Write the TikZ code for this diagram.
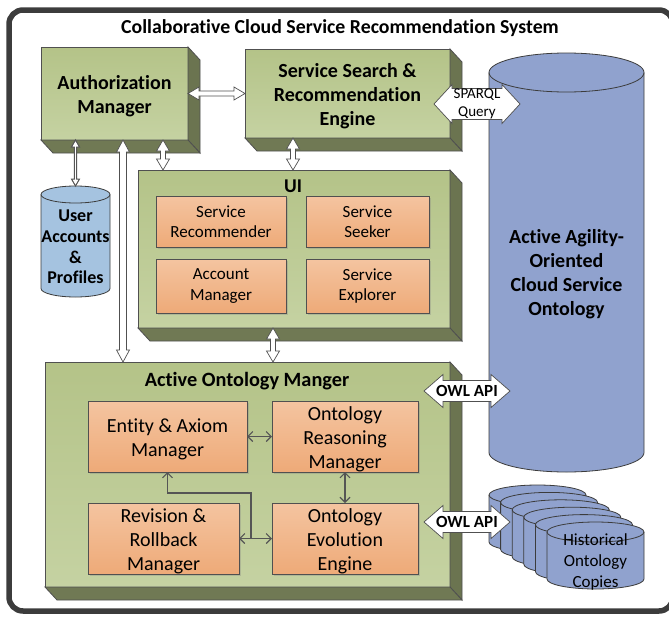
\documentclass[tikz,border=0pt]{standalone}
\usepackage{fontspec}
\setmainfont{Carlito}[Ligatures=NoCommon]
\usetikzlibrary{calc,arrows.meta,shadows}
\definecolor{framecol}{RGB}{60,60,60}
\definecolor{greentop}{RGB}{180,195,136}
\definecolor{greenbot}{RGB}{197,210,162}
\definecolor{greenside}{RGB}{107,116,80}
\definecolor{greenbottom}{RGB}{112,121,84}
\definecolor{orangetop}{RGB}{244,196,160}
\definecolor{orangebot}{RGB}{238,170,120}
\definecolor{ontoblue}{RGB}{144,162,206}
\definecolor{userblue}{RGB}{165,195,224}
\definecolor{edgecol}{RGB}{80,80,80}
\definecolor{arrowcol}{RGB}{85,85,85}
\newcommand\fsTitle{\fontsize{19.8}{23}\selectfont\bfseries}
\newcommand\fsBoxB{\fontsize{20}{24}\selectfont\bfseries}
\newcommand\fsSub{\fontsize{17}{20.5}\selectfont}
\newcommand\fsInner{\fontsize{20}{24}\selectfont}
\newcommand\fsUser{\fontsize{18}{20.7}\selectfont\bfseries}
\newcommand\fsSmall{\fontsize{15}{17.5}\selectfont}
\newcommand\fsOwl{\fontsize{17}{20}\selectfont\bfseries}
\newcommand\fsHist{\fontsize{17}{21}\selectfont}
\newcommand\fsLabel{\fontsize{19.5}{22}\selectfont\bfseries}
\newcommand\fsAom{\fontsize{20.3}{23}\selectfont\bfseries}
\newcommand\dn{\rule{0pt}{19pt}}
\tikzset{
  greenbox/.style={draw=edgecol, line width=0.8pt, top color=greentop, bottom color=greenbot,
    inner sep=0pt, outer sep=0pt, align=center, font=\fsBoxB},
  sideface/.style={fill=greenside, draw=edgecol, line width=0.8pt},
  bottomface/.style={fill=greenbottom, draw=edgecol, line width=0.8pt},
  orangebox/.style={draw=edgecol, line width=0.7pt, top color=orangetop, bottom color=orangebot,
    inner sep=0pt, outer sep=0pt, align=center,
    drop shadow={shadow xshift=1.5pt, shadow yshift=-1.5pt, opacity=0.3}},
  blockarrow/.style={fill=white, draw=edgecol, line width=0.7pt, line join=miter},
  blockshadow/.style={fill=black, opacity=0.25, draw=none, xshift=2pt, yshift=-2pt},
  darkarrow/.style={fill=white, draw=arrowcol, line width=1pt, line join=miter},
  biarrow/.style={draw=arrowcol, line width=1.1pt,
    {Straight Barb[length=5pt,width=10pt]}-{Straight Barb[length=5pt,width=10pt]}},
  onearrow/.style={draw=arrowcol, line width=1.1pt, -{Straight Barb[length=5pt,width=10pt]}},
  cylline/.style={draw=framecol, line width=0.8pt},
}
% 3D extrusion of a front face node
\newcommand\extrude[1]{%
  \filldraw[sideface] (#1.north east) -- ++(12,13) -- ($(#1.south east)+(12,13)$) -- (#1.south east) -- cycle;
  \filldraw[bottomface] (#1.south west) -- (#1.south east) -- ($(#1.south east)+(12,13)$) -- ($(#1.south west)+(12,13)$) -- cycle;
}
% horizontal double block arrow: [style]{left}{right}{shaft half}{head half}{head length}
\newcommand\hblock[6][blockarrow]{%
  \draw[#1] let \p1=(#2), \p2=(#3) in
   (\x1,\y1) -- (\x1+#6pt,\y1+#5pt) -- (\x1+#6pt,\y1+#4pt) -- (\x2-#6pt,\y2+#4pt) -- (\x2-#6pt,\y2+#5pt)
   -- (\x2,\y2) -- (\x2-#6pt,\y2-#5pt) -- (\x2-#6pt,\y2-#4pt) -- (\x1+#6pt,\y1-#4pt) -- (\x1+#6pt,\y1-#5pt) -- cycle;
}
% vertical double block arrow: [style]{top}{bottom}{shaft half}{head half}{head length}
\newcommand\vblock[6][blockarrow]{%
  \draw[#1] let \p1=(#2), \p2=(#3) in
   (\x1,\y1) -- (\x1+#5pt,\y1-#6pt) -- (\x1+#4pt,\y1-#6pt) -- (\x2+#4pt,\y2+#6pt) -- (\x2+#5pt,\y2+#6pt)
   -- (\x2,\y2) -- (\x2-#5pt,\y2+#6pt) -- (\x2-#4pt,\y2+#6pt) -- (\x1-#4pt,\y1-#6pt) -- (\x1-#5pt,\y1-#6pt) -- cycle;
}
% cylinder: {cx}{yt}{yb}{rx}{ry}{fill}
\newcommand\cylshape[6]{%
  \filldraw[cylline, fill=#6] (#1-#4,#2) -- (#1-#4,#3)
    arc[start angle=180, end angle=0, x radius=#4, y radius=#5] -- (#1+#4,#2)
    arc[start angle=0, end angle=-180, x radius=#4, y radius=#5] -- cycle;
  \draw[cylline] (#1-#4,#2) arc[start angle=180, end angle=0, x radius=#4, y radius=#5];
}
\begin{document}
\begin{tikzpicture}[x=1pt,y=-1pt]
\useasboundingbox (0,0) rectangle (669,616);
\fill[white] (0,0) rectangle (669,616);
\draw[line width=5.5pt, framecol, rounded corners=14pt] (9,10) rectangle (673,611);
\node[font=\fsTitle] (title) at (340,28) {Collaborative Cloud Service Recommendation System};

% ---- green 3D boxes
\node[greenbox, minimum width=147pt, minimum height=93pt] (auth) at (114.5,93.5) {\dn Authorization\\Manager};
\extrude{auth}
\node[greenbox, minimum width=205pt, minimum height=89pt] (search) at (347.5,93.5) {\dn Service Search \&\\Recommendation\\Engine};
\extrude{search}
\node[greenbox, minimum width=312pt, minimum height=158pt] (ui) at (294,249) {};
\extrude{ui}
\node[font=\fsLabel] (uilabel) at (293,186) {UI};
\node[greenbox, minimum width=405pt, minimum height=225pt] (aom) at (247.5,474.5) {};
\extrude{aom}
\node[font=\fsAom] (aomlabel) at (247,381) {Active Ontology Manger};

% ---- UI components
\node[orangebox, font=\fsSub, minimum width=130pt, minimum height=51pt] (srec) at (221,221.5) {Service\\Recommender};
\node[orangebox, font=\fsSub, minimum width=123pt, minimum height=51pt] (sseek) at (367.5,221.5) {Service\\Seeker};
\node[orangebox, font=\fsSub, minimum width=130pt, minimum height=54pt] (accm) at (221,286) {Account\\Manager};
\node[orangebox, font=\fsSub, minimum width=123pt, minimum height=54pt] (sexp) at (367.5,286) {Service\\Explorer};

% ---- AOM components
\node[orangebox, font=\fsInner, minimum width=159pt, minimum height=71pt] (entity) at (167.5,436.5) {\dn Entity \& Axiom\\Manager};
\node[orangebox, font=\fsInner, minimum width=146pt, minimum height=71pt] (reason) at (345,436.5) {\dn Ontology\\Reasoning\\Manager};
\node[orangebox, font=\fsInner, minimum width=151pt, minimum height=71pt] (revision) at (163.5,538.5) {\dn Revision \&\\Rollback\\Manager};
\node[orangebox, font=\fsInner, minimum width=146pt, minimum height=71pt] (evol) at (345,538.5) {\dn Ontology\\Evolution\\Engine};

\draw[biarrow] (entity.east) -- (reason.west);
\draw[biarrow] (reason.south) -- (evol.north);
\draw[biarrow] (revision.east) -- (evol.west);
\coordinate (jx) at (251,0);
\coordinate (junction) at (revision.east -| jx);
\coordinate (bend) at (251,493);
\draw[onearrow] (junction) -- (bend) -| (entity.south);

% ---- cylinders
\cylshape{566.5}{72.5}{452.5}{77.5}{19.5}{ontoblue}
\node[font=\fsBoxB, align=center] (onto) at (566.5,274) {Active Agility-\\Oriented\\Cloud Service\\Ontology};
\cylshape{75.5}{194.5}{288.5}{34.5}{8.5}{userblue}
\node[font=\fsUser, align=center] (users) at (75.5,247) {User\\Accounts\\\&\\Profiles};
\coordinate (userstop) at (75.5,186);
\foreach \i in {0,...,5}{
  \pgfmathsetmacro\cx{537.5+11.6*\i}
  \pgfmathsetmacro\yt{495+7.4*\i}
  \pgfmathsetmacro\yb{542+7.4*\i}
  \cylshape{\cx}{\yt}{\yb}{48.5}{10}{ontoblue}
}
\node[font=\fsHist, align=center] (hist) at (595.5,562) {Historical\\Ontology\\Copies};

% ---- block arrows between components
\coordinate (xa) at (163,0);
\coordinate (xb) at (293,0);
\coordinate (xc) at (123,0);
\coordinate (xd) at (273,0);
\coordinate (xu) at (75.5,0);
\hblock{auth.east}{search.west}{2.5}{6.5}{11}
\vblock{auth.south -| xa}{ui.north -| xa}{2.5}{6.5}{11}
\vblock{search.south -| xb}{ui.north -| xb}{2.5}{6.5}{11}
\vblock{auth.south -| xc}{aom.north -| xc}{3.5}{6.5}{12}
\vblock{ui.south -| xd}{aom.north -| xd}{2.5}{6.5}{11}
\vblock[darkarrow]{auth.south -| xu}{userstop}{1.2}{4}{7}

% ---- SPARQL / OWL API
\coordinate (sqL) at ($(search.east)+(-16,10.5)$);
\coordinate (sqR) at ($(sqL)+(86,0)$);
\hblock[blockshadow]{sqL}{sqR}{15.5}{19.5}{18}
\hblock{sqL}{sqR}{15.5}{19.5}{18}
\node[font=\fsSmall, align=center] (sparql) at ($(sqL)!0.5!(sqR)$) {SPARQL\\Query};

\coordinate (owlaL) at (424,391);
\coordinate (owlaR) at (510,391);
\hblock[blockshadow]{owlaL}{owlaR}{10.5}{16.5}{19}
\hblock{owlaL}{owlaR}{10.5}{16.5}{19}
\node[font=\fsOwl] (owla) at ($(owlaL)!0.5!(owlaR)$) {OWL API};

\coordinate (owlbL) at (424,522);
\coordinate (owlbR) at (510,522);
\hblock[blockshadow]{owlbL}{owlbR}{10.5}{16.5}{19}
\hblock{owlbL}{owlbR}{10.5}{16.5}{19}
\node[font=\fsOwl] (owlb) at ($(owlbL)!0.5!(owlbR)$) {OWL API};
\end{tikzpicture}
\end{document}
